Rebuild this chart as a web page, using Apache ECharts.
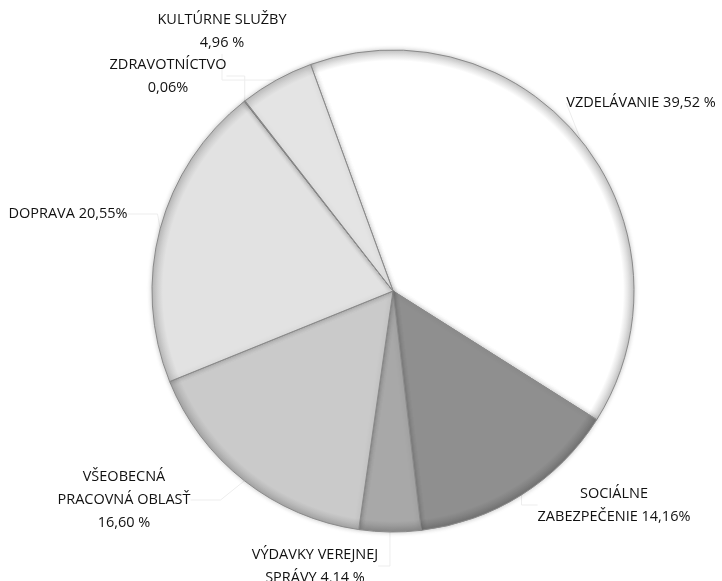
<!DOCTYPE html>
<html>
<head>
<meta charset="utf-8">
<script src="https://cdn.jsdelivr.net/npm/echarts@6/dist/echarts.min.js"></script>
<style>
  html, body { margin: 0; padding: 0; background: #fff; }
  #chart { width: 722px; height: 581px; }
</style>
</head>
<body>
<div id="chart"></div>
<script>
var categories = ['VZDELÁVANIE', 'SOCIÁLNE ZABEZPEČENIE', 'VÝDAVKY VEREJNEJ SPRÁVY',
  'VŠEOBECNÁ PRACOVNÁ OBLASŤ', 'DOPRAVA', 'ZDRAVOTNÍCTVO', 'KULTÚRNE SLUŽBY'];
var values = [39.52, 14.16, 4.14, 16.60, 20.55, 0.06, 4.96];
var labelTexts = [
  'VZDELÁVANIE 39,52 %',
  'SOCIÁLNE\nZABEZPEČENIE 14,16%',
  'VÝDAVKY VEREJNEJ\nSPRÁVY 4,14 %',
  'VŠEOBECNÁ\nPRACOVNÁ OBLASŤ\n16,60 %',
  'DOPRAVA 20,55%',
  'ZDRAVOTNÍCTVO\n0,06%',
  'KULTÚRNE SLUŽBY\n4,96 %'
];
var colors = ['#ffffff', '#8f8f8f', '#a8a8a8', '#cacaca', '#e2e2e2', '#d0d0d0', '#e4e4e4'];
var rimColors = ['#c8c8c8', '#747474', '#8a8a8a', '#a8a8a8', '#bcbcbc', '#b0b0b0', '#c0c0c0'];

// label anchor spots (center of the text block)
var labelPos = [
  [641, 103], [614, 505], [315, 566], [124, 500], [68, 214], [168, 76], [222, 31]
];

var cx = 393, cy = 291, rad = 241;

var chart = echarts.init(document.getElementById('chart'));

var data = categories.map(function (c, i) {
  return {
    name: c,
    value: values[i],
    itemStyle: {
      color: {
        type: 'radial', x: cx, y: cy, r: rad, global: true,
        colorStops: [
          { offset: 0, color: colors[i] },
          { offset: 0.955, color: colors[i] },
          { offset: 1, color: rimColors[i] }
        ]
      }
    }
  };
});

chart.setOption({
  animation: false,
  series: [{
    type: 'pie',
    center: [cx, cy],
    radius: [0, rad],
    startAngle: 110,
    clockwise: true,
    avoidLabelOverlap: false,
    data: data,
    itemStyle: {
      borderColor: '#8a8a8a',
      borderWidth: 1,
      shadowBlur: 5,
      shadowColor: 'rgba(0,0,0,0.22)'
    },
    label: {
      show: true,
      formatter: function (p) { return labelTexts[p.dataIndex]; },
      fontFamily: 'Open Sans',
      fontSize: 14.5,
      color: '#111',
      lineHeight: 23,
      align: 'center'
    },
    labelLine: {
      show: true,
      lineStyle: { color: '#ededed', width: 1 }
    },
    labelLayout: function (p) {
      var pos = labelPos[p.dataIndex];
      return {
        x: pos[0],
        y: pos[1],
        align: 'center',
        verticalAlign: 'middle'
      };
    }
  }]
});
</script>
</body>
</html>
